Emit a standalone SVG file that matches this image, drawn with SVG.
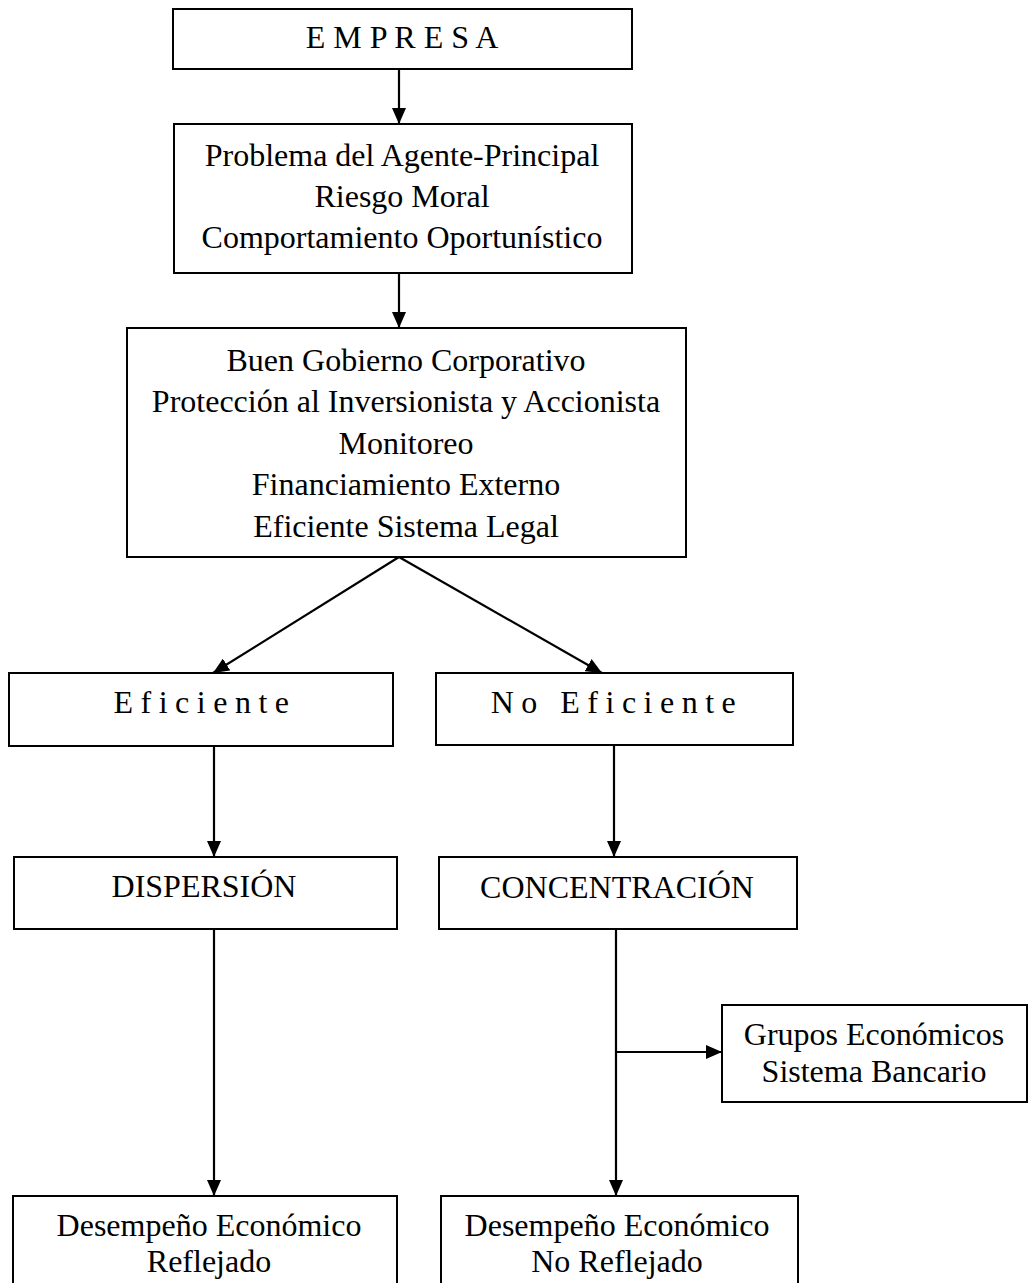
<svg xmlns="http://www.w3.org/2000/svg" width="1034" height="1283" viewBox="0 0 1034 1283">
<defs>
<marker id="ah" markerWidth="16" markerHeight="14" refX="16" refY="7" orient="auto" markerUnits="userSpaceOnUse">
<path d="M0,0 L16,7 L0,14 Z" fill="#000"/>
</marker>
<style>
.box{fill:#fff;stroke:#000;stroke-width:2}
.t{font-family:"Liberation Serif","Times New Roman",serif;font-size:32px;fill:#000;text-anchor:middle}
.c{fill:none;stroke:#000;stroke-width:2.2}
</style>
</defs>
<rect width="1034" height="1283" fill="#fff"/>
<g id="connectors">
<line class="c" x1="399" y1="69" x2="399" y2="124" marker-end="url(#ah)"/>
<line class="c" x1="399" y1="273" x2="399" y2="328" marker-end="url(#ah)"/>
<line class="c" x1="399" y1="557" x2="213" y2="673" marker-end="url(#ah)"/>
<line class="c" x1="399" y1="557" x2="602" y2="673" marker-end="url(#ah)"/>
<line class="c" x1="214" y1="746" x2="214" y2="857" marker-end="url(#ah)"/>
<line class="c" x1="614" y1="745" x2="614" y2="857" marker-end="url(#ah)"/>
<line class="c" x1="214" y1="929" x2="214" y2="1196" marker-end="url(#ah)"/>
<line class="c" x1="616" y1="929" x2="616" y2="1196" marker-end="url(#ah)"/>
<line class="c" x1="616" y1="1052" x2="722" y2="1052" marker-end="url(#ah)"/>
</g>
<g id="empresa">
<rect class="box" x="173" y="9" width="459" height="60"/>
<text class="t" x="402" y="48">E M P R E S A</text>
</g>
<g id="problema">
<rect class="box" x="174" y="124" width="458" height="149"/>
<text class="t" x="402" y="166">Problema del Agente-Principal</text>
<text class="t" x="402" y="207">Riesgo Moral</text>
<text class="t" x="402" y="248">Comportamiento Oportunístico</text>
</g>
<g id="gobierno">
<rect class="box" x="127" y="328" width="559" height="229"/>
<text class="t" x="406" y="371">Buen Gobierno Corporativo</text>
<text class="t" x="406" y="412">Protección al Inversionista y Accionista</text>
<text class="t" x="406" y="454">Monitoreo</text>
<text class="t" x="406" y="495">Financiamiento Externo</text>
<text class="t" x="406" y="537">Eficiente Sistema Legal</text>
</g>
<g id="eficiente">
<rect class="box" x="9" y="673" width="384" height="73"/>
<text class="t" x="205" y="713" style="letter-spacing:7.5px">Eficiente</text>
</g>
<g id="noeficiente">
<rect class="box" x="436" y="673" width="357" height="72"/>
<text class="t" x="617" y="713" style="letter-spacing:7.5px">No Eficiente</text>
</g>
<g id="dispersion">
<rect class="box" x="14" y="857" width="383" height="72"/>
<text class="t" x="204" y="897">DISPERSIÓN</text>
</g>
<g id="concentracion">
<rect class="box" x="439" y="857" width="358" height="72"/>
<text class="t" x="617" y="898">CONCENTRACIÓN</text>
</g>
<g id="grupos">
<rect class="box" x="722" y="1005" width="305" height="97"/>
<text class="t" x="874" y="1045">Grupos Económicos</text>
<text class="t" x="874" y="1082">Sistema Bancario</text>
</g>
<g id="reflejado">
<rect class="box" x="13" y="1196" width="384" height="110"/>
<text class="t" x="209" y="1236">Desempeño Económico</text>
<text class="t" x="209" y="1272">Reflejado</text>
</g>
<g id="noreflejado">
<rect class="box" x="441" y="1196" width="357" height="110"/>
<text class="t" x="617" y="1236">Desempeño Económico</text>
<text class="t" x="617" y="1272">No Reflejado</text>
</g>
</svg>
